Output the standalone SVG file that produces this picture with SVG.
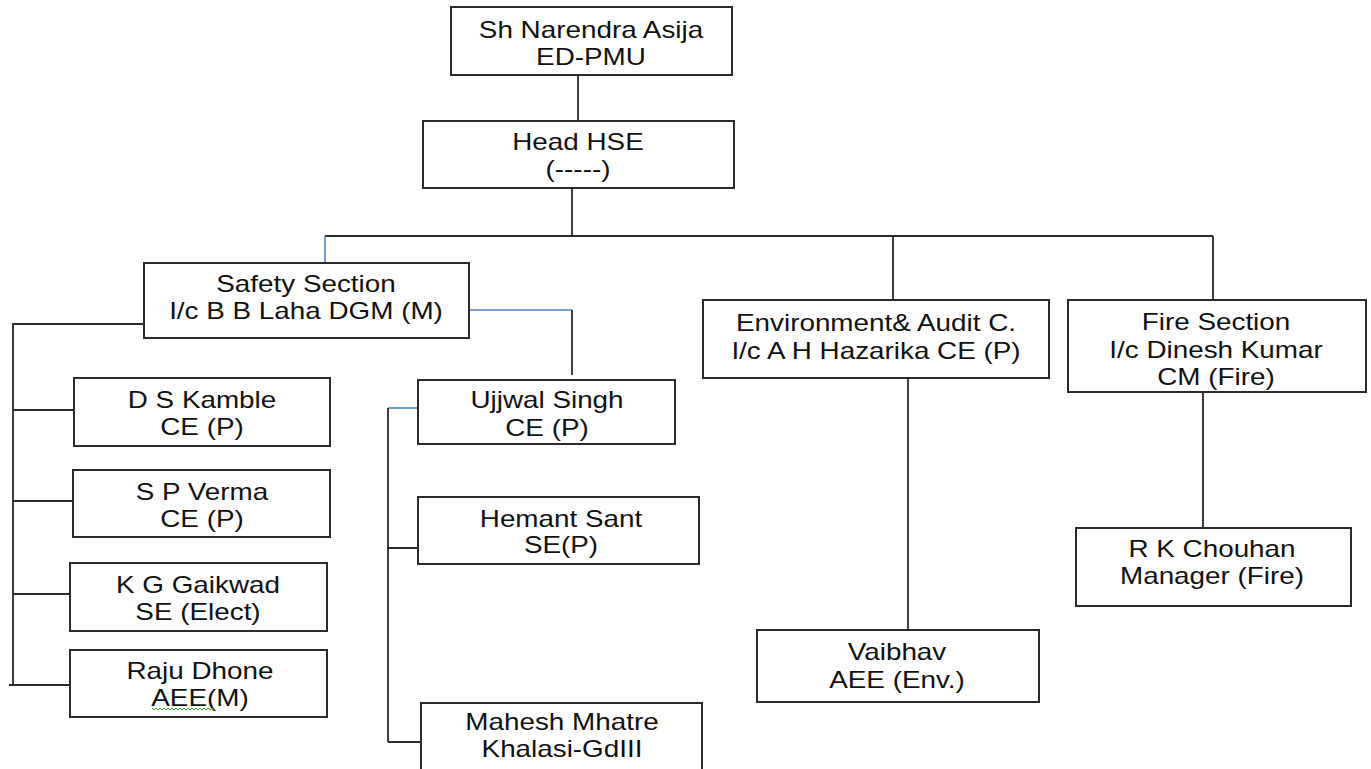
<svg xmlns="http://www.w3.org/2000/svg" width="1371" height="769" viewBox="0 0 1371 769">
<style>
.box{fill:#fff;stroke:#2b2b2b;stroke-width:2}
.t{font-family:"Liberation Sans",Arial,sans-serif;font-size:24px;fill:#111;text-anchor:middle}
.c{fill:none;stroke:#2b2b2b;stroke-width:1.8}
.b{fill:none;stroke:#4f81bd;stroke-width:1.6}
</style>
<rect width="1371" height="769" fill="#fff"/>
<g id="connectors">
<path class="c" d="M578,75V121M572,188V236M325,236H1213M893,236V300M1213,236V300"/>
<path class="b" d="M325,236V263"/>
<path class="c" d="M144,324H13V685M13,410H74M13,501H75M13,594H72M9,685H70"/>
<path class="b" d="M469,310H572"/>
<path class="c" d="M572,310V375"/>
<path class="b" d="M418,408H388"/>
<path class="c" d="M388,408V742M388,548H420M388,742H421"/>
<path class="c" d="M908,378V630M1203,392V528"/>
</g>
<g id="n-top"><rect class="box" x="451" y="7" width="281" height="68"/>
<text class="t" transform="matrix(1.16 0 0 1 591 0)"><tspan x="0" y="38">Sh Narendra Asija</tspan><tspan x="0" y="65">ED-PMU</tspan></text></g>
<g id="n-head"><rect class="box" x="423" y="121" width="311" height="67"/>
<text class="t" transform="matrix(1.16 0 0 1 578 0)"><tspan x="0" y="150">Head HSE</tspan><tspan x="0" y="177">(-----)</tspan></text></g>
<g id="n-safety"><rect class="box" x="144" y="263" width="325" height="75"/>
<text class="t" transform="matrix(1.16 0 0 1 306 0)"><tspan x="0" y="292">Safety Section</tspan><tspan x="0" y="319">I/c B B Laha DGM (M)</tspan></text></g>
<g id="n-kamble"><rect class="box" x="74" y="378" width="256" height="68"/>
<text class="t" transform="matrix(1.16 0 0 1 202 0)"><tspan x="0" y="408">D S Kamble</tspan><tspan x="0" y="435">CE (P)</tspan></text></g>
<g id="n-verma"><rect class="box" x="73" y="470" width="257" height="67"/>
<text class="t" transform="matrix(1.16 0 0 1 202 0)"><tspan x="0" y="500">S P Verma</tspan><tspan x="0" y="527">CE (P)</tspan></text></g>
<g id="n-gaikwad"><rect class="box" x="70" y="563" width="257" height="68"/>
<text class="t" transform="matrix(1.16 0 0 1 198 0)"><tspan x="0" y="593">K G Gaikwad</tspan><tspan x="0" y="620">SE (Elect)</tspan></text></g>
<g id="n-raju"><rect class="box" x="70" y="650" width="257" height="67"/>
<text class="t" transform="matrix(1.16 0 0 1 200 0)"><tspan x="0" y="679">Raju Dhone</tspan><tspan x="0" y="706">AEE(M)</tspan></text>
<path d="M152,708l2,2l2,-2l2,2l2,-2l2,2l2,-2l2,2l2,-2l2,2l2,-2l2,2l2,-2l2,2l2,-2l2,2l2,-2l2,2l2,-2l2,2l2,-2l2,2l2,-2l2,2l2,-2l2,2l2,-2l2,2l2,-2l2,2l2,-2l2,2" fill="none" stroke="#3a9a3a" stroke-width="1"/></g>
<g id="n-ujjwal"><rect class="box" x="418" y="380" width="257" height="64"/>
<text class="t" transform="matrix(1.16 0 0 1 547 0)"><tspan x="0" y="408">Ujjwal Singh</tspan><tspan x="0" y="436">CE (P)</tspan></text></g>
<g id="n-hemant"><rect class="box" x="418" y="497" width="281" height="67"/>
<text class="t" transform="matrix(1.16 0 0 1 561 0)"><tspan x="0" y="527">Hemant Sant</tspan><tspan x="0" y="553">SE(P)</tspan></text></g>
<g id="n-mahesh"><rect class="box" x="421" y="703" width="281" height="80"/>
<text class="t" transform="matrix(1.16 0 0 1 562 0)"><tspan x="0" y="730">Mahesh Mhatre</tspan><tspan x="0" y="757">Khalasi-GdIII</tspan></text></g>
<g id="n-env"><rect class="box" x="703" y="300" width="346" height="78"/>
<text class="t" transform="matrix(1.16 0 0 1 876 0)"><tspan x="0" y="331">Environment&amp; Audit C.</tspan><tspan x="0" y="359">I/c A H Hazarika CE (P)</tspan></text></g>
<g id="n-fire"><rect class="box" x="1068" y="300" width="298" height="92"/>
<text class="t" transform="matrix(1.16 0 0 1 1216 0)"><tspan x="0" y="330">Fire Section</tspan><tspan x="0" y="358">I/c Dinesh Kumar</tspan><tspan x="0" y="385">CM (Fire)</tspan></text></g>
<g id="n-chouhan"><rect class="box" x="1076" y="528" width="275" height="78"/>
<text class="t" transform="matrix(1.16 0 0 1 1212 0)"><tspan x="0" y="557">R K Chouhan</tspan><tspan x="0" y="584">Manager (Fire)</tspan></text></g>
<g id="n-vaibhav"><rect class="box" x="757" y="630" width="282" height="72"/>
<text class="t" transform="matrix(1.16 0 0 1 897 0)"><tspan x="0" y="660">Vaibhav</tspan><tspan x="0" y="688">AEE (Env.)</tspan></text></g>
</svg>
